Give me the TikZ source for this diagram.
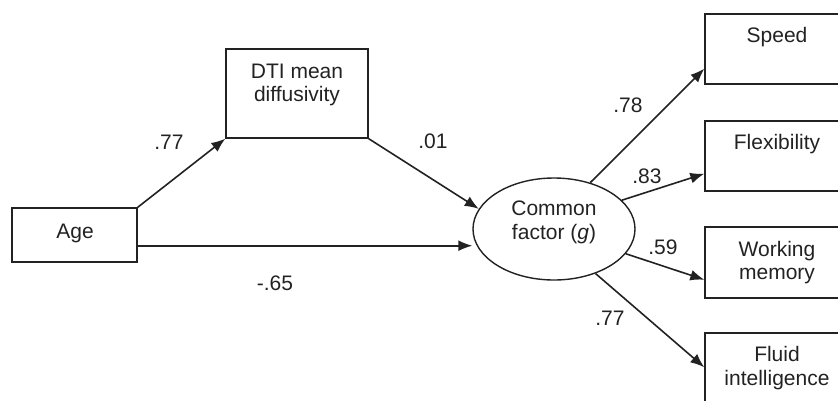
\documentclass[tikz,border=0pt]{standalone}
\usepackage{fontspec}
\setmainfont{Liberation Sans}
\usetikzlibrary{shapes.geometric,arrows.meta,calc}
\definecolor{ink}{HTML}{222222}
\begin{document}
\begin{tikzpicture}[x=1pt,y=-1pt,
  box/.style={draw=ink,line width=1.4pt,rectangle,inner sep=0pt},
  txt/.style={inner sep=0pt,anchor=base,text=ink,font=\fontsize{21}{24}\selectfont},
  arr/.style={draw=ink,line width=1.6pt,-{Latex[length=14pt,width=11pt]}}]
\useasboundingbox (0,0) rectangle (838,400);
\clip (0,0) rectangle (838,400);
% boxes
\node[box,minimum width=125pt,minimum height=54pt] (age) at (74.5,235) {};
\node[box,minimum width=142pt,minimum height=89pt] (dti) at (297,93.5) {};
\node[draw=ink,line width=1.4pt,ellipse,inner sep=0pt,minimum width=162pt,minimum height=102pt] (g) at (554,229) {};
\node[box,minimum width=144pt,minimum height=70pt] (speed) at (777,49) {};
\node[box,minimum width=144pt,minimum height=70pt] (flex) at (777,156) {};
\node[box,minimum width=144pt,minimum height=71pt] (wm) at (777,262.5) {};
\node[box,minimum width=144pt,minimum height=70pt] (fluid) at (777,368) {};
% texts
\node[txt] (tage) at (75,238) {Age};
\node[txt] (tdti1) at (297,78) {DTI mean};
\node[txt] (tdti2) at (297,101) {diffusivity};
\node[txt] (tg1) at (554,215) {Common};
\node[txt] (tg2) at (554,239) {factor (\textit{g})};
\node[txt] (tspeed) at (777,42) {Speed};
\node[txt] (tflex) at (777,149) {Flexibility};
\node[txt] (twm1) at (777,256) {Working};
\node[txt] (twm2) at (777,279) {memory};
\node[txt] (tfl1) at (777,361) {Fluid};
\node[txt] (tfl2) at (777,385) {intelligence};
% coefficients
\node[txt] (c1) at (169,149.5) {.77};
\node[txt] (c2) at (433,148.5) {.01};
\node[txt] (c3) at (275,290.5) {-.65};
\node[txt] (c4) at (628,112.5) {.78};
\node[txt] (c5) at (647,183.5) {.83};
\node[txt] (c6) at (663,254.5) {.59};
\node[txt] (c7) at (610,325.5) {.77};
% connectors
\coordinate (a1) at ($(age.south east)+(0,-17)$);
\draw[arr] (age.north east) -- (dti.south west);
\draw[arr] (dti.south east) -- (g.165);
\draw[arr] (a1) -- (a1 -| g.west);
\draw[arr] (g.52) -- ($(speed.south west)+(0,-16)$);
\draw[arr] (g.23) -- ($(flex.south west)+(0,-18)$);
\draw[arr] (g.-19) -- ($(wm.south west)+(0,-19)$);
\draw[arr] (g.-47) -- ($(fluid.north west)+(0,35)$);
\end{tikzpicture}
\end{document}
